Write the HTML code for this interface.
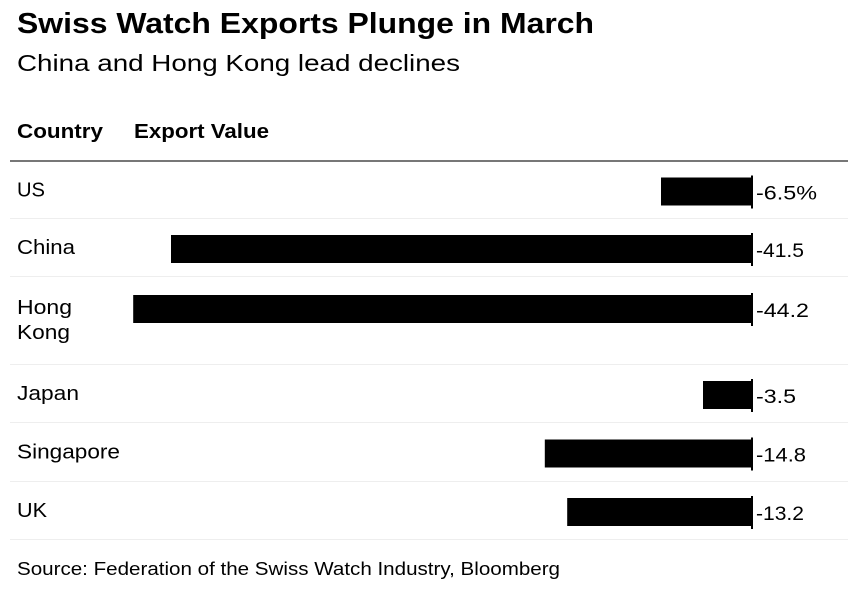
<!DOCTYPE html>
<html><head><meta charset="utf-8"><style>
body{margin:0;background:#fff;width:848px;height:603px;overflow:hidden}
svg{display:block;font-family:"Liberation Sans",Arial,sans-serif}
</style></head><body>
<svg id="c" width="848" height="603">
<text x="17" y="33" font-size="29" font-weight="bold" fill="#000" textLength="577" lengthAdjust="spacingAndGlyphs">Swiss Watch Exports Plunge in March</text>
<text x="17" y="71" font-size="23" fill="#000" textLength="443" lengthAdjust="spacingAndGlyphs">China and Hong Kong lead declines</text>
<text x="17" y="138" font-size="20" font-weight="bold" fill="#000" textLength="86" lengthAdjust="spacingAndGlyphs">Country</text>
<text x="134" y="138" font-size="20" font-weight="bold" fill="#000" textLength="135" lengthAdjust="spacingAndGlyphs">Export Value</text>
<line x1="10" y1="161" x2="848" y2="161" stroke="#777" stroke-width="2"/>
<g id="rows"></g>
<text x="17" y="575" font-size="18" fill="#000" textLength="543" lengthAdjust="spacingAndGlyphs">Source: Federation of the Swiss Watch Industry, Bloomberg</text>
</svg>
<script>
const categories=["US","China","Hong Kong","Japan","Singapore","UK"];
const values=[-6.5,-41.5,-44.2,-3.5,-14.8,-13.2];
const valueLabels=["-6.5%","-41.5","-44.2","-3.5","-14.8","-13.2"];
const rowTops=[162,219,277,365,423,482];
const rowHeights=[57,58,88,58,59,58];
const labelWidths={"US":28,"China":58,"Hong":55,"Kong":53,"Japan":62,"Singapore":103,"UK":30};
const valueWidths=[61,48,53,40,50,48];
const zeroX=752, pxPerUnit=14;
function x(v){return zeroX+v*pxPerUnit;}
const g=document.getElementById('rows');
const ns="http://www.w3.org/2000/svg";
function mk(t,a){const e=document.createElementNS(ns,t);for(const k in a)e.setAttribute(k,a[k]);g.appendChild(e);return e;}
categories.forEach((c,i)=>{
  const top=rowTops[i], h=rowHeights[i];
  const sep=mk('line',{x1:10,x2:848,y1:top+h-0.5,y2:top+h-0.5,stroke:'#eee','stroke-width':1});
  
  
  const words=c==="Hong Kong"?["Hong","Kong"]:[c];
  const by=words.length>1?top+18:top+h/2-13;
  words.forEach((w,j)=>{
    const lab=mk('text',{x:17,y:words.length>1?by+19+j*25:by+19,'font-size':20,fill:'#000',textLength:labelWidths[w],lengthAdjust:'spacingAndGlyphs'});
    lab.textContent=w;
    
    
  });
  const v=values[i];
  const b=mk('rect',{x:x(Math.min(v,0)),y:by,width:Math.abs(v)*pxPerUnit,height:28,fill:'#000'});
  
  
  const z=mk('line',{x1:zeroX,x2:zeroX,y1:by-2,y2:by+31,stroke:'#000','stroke-width':2});
  
  
  const t=mk('text',{x:zeroX+4,y:by+22,'font-size':19,fill:'#000',textLength:valueWidths[i],lengthAdjust:'spacingAndGlyphs'});
  t.textContent=valueLabels[i];
  
  
});
</script>
</body></html>
